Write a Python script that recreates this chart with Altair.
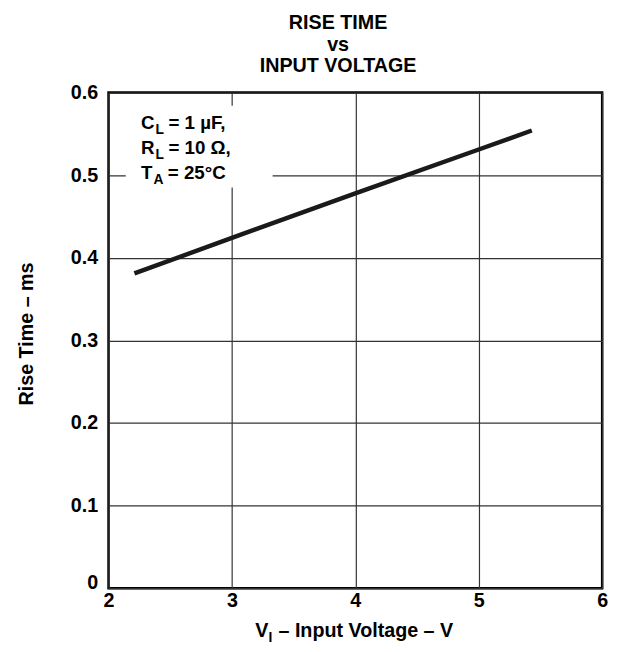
import altair as alt
import pandas as pd

# ---- data ----
voltage = [2.21, 3.0, 4.0, 5.0, 5.43]
rise_time = [0.381, 0.424, 0.478, 0.531, 0.554]

x_ticks = [2, 3, 4, 5, 6]
y_ticks = [0, 0.1, 0.2, 0.3, 0.4, 0.5, 0.6]

title_lines = ["RISE TIME", "vs", "INPUT VOLTAGE"]
y_title = "Rise Time – ms"
x_title_main = ["V", "I", "– Input Voltage – V"]
note_main = ["C", "R", "T"]
note_sub = ["L", "L", "A"]
note_rest = ["= 1 µF,", "= 10 Ω,", "= 25°C"]

FONT = "Liberation Sans"
W, H = 501, 503

df = pd.DataFrame({"v": voltage, "t": rise_time})

x_scale = alt.Scale(domain=[2, 6], nice=False, zero=False)
y_scale = alt.Scale(domain=[0, 0.6], nice=False)

x_axis = alt.Axis(values=x_ticks, format="d", title=None, grid=True,
                  gridColor="#333333", gridWidth=1.2, ticks=False, domain=False,
                  labelFont=FONT, labelFontSize=20, labelFontWeight="bold",
                  labelColor="black", labelPadding=3, labelFlush=False)
y_axis = alt.Axis(values=y_ticks, title=None, grid=True,
                  labelExpr="datum.value == 0 ? '0' : format(datum.value, '.1f')",
                  labelBaseline={"condition": {"test": "datum.value == 0", "value": "alphabetic"},
                                 "value": "middle"},
                  gridColor="#333333", gridWidth=1.2, ticks=False, domain=False,
                  labelFont=FONT, labelFontSize=20, labelFontWeight="bold",
                  labelColor="black", labelPadding=11, labelFlush=False)

base = alt.Chart(df)

grid = base.mark_point(opacity=0).encode(
    x=alt.X("v:Q", scale=x_scale, axis=x_axis),
    y=alt.Y("t:Q", scale=y_scale, axis=y_axis),
)

# white box behind the condition note
box_df = pd.DataFrame({"x1": [2.14], "x2": [3.33], "y1": [0.485], "y2": [0.584]})
box = alt.Chart(box_df).mark_rect(color="white").encode(
    x=alt.X("x1:Q", scale=x_scale), x2="x2:Q",
    y=alt.Y("y1:Q", scale=y_scale), y2="y2:Q",
)

line = base.mark_line(color="#1a1a1a", strokeWidth=4.5, strokeCap="butt").encode(
    x=alt.X("v:Q", scale=x_scale),
    y=alt.Y("t:Q", scale=y_scale),
)


def txt(text, x, y, size=20, align="left", baseline="alphabetic", angle=0):
    return alt.Chart(pd.DataFrame({"s": [text]})).mark_text(
        font=FONT, fontSize=size, fontWeight="bold", color="black",
        align=align, baseline=baseline, angle=angle,
    ).encode(x=alt.value(x), y=alt.value(y), text="s:N")


layers = [grid, box, line]

# title
for t, yb in zip(title_lines, [-64, -42, -21]):
    layers.append(txt(t, 233, yb, size=20, align="center"))

# y title
layers.append(txt(y_title, -77, 245, size=20, align="center", angle=270))

# x title with subscript
xs = 149
layers.append(txt(x_title_main[0], xs, 553))
layers.append(txt(x_title_main[1], xs + 13.5, 558, size=14))
layers.append(txt(x_title_main[2], xs + 23.5, 553))

# note
main_w = {"C": 13.7, "R": 13.7, "T": 11.6}
sub_w = {"L": 8.6, "A": 10.1}
for m, s, r, yb in zip(note_main, note_sub, note_rest, [37, 62, 88]):
    x0 = 33
    layers.append(txt(m, x0, yb, size=19))
    layers.append(txt(s, x0 + main_w[m] + 1, yb + 5, size=14))
    layers.append(txt(r, x0 + main_w[m] + 1 + sub_w[s] + 4.5, yb, size=19))

chart = alt.layer(*layers).properties(
    width=W, height=H,
    autosize=alt.AutoSizeParams(type="none"),
    padding={"left": 102, "top": 81, "right": 10, "bottom": 60},
    background="white",
).configure_view(stroke="black", strokeWidth=2.5)

chart.save("out.html", embed_options={"renderer": "svg", "actions": False})
